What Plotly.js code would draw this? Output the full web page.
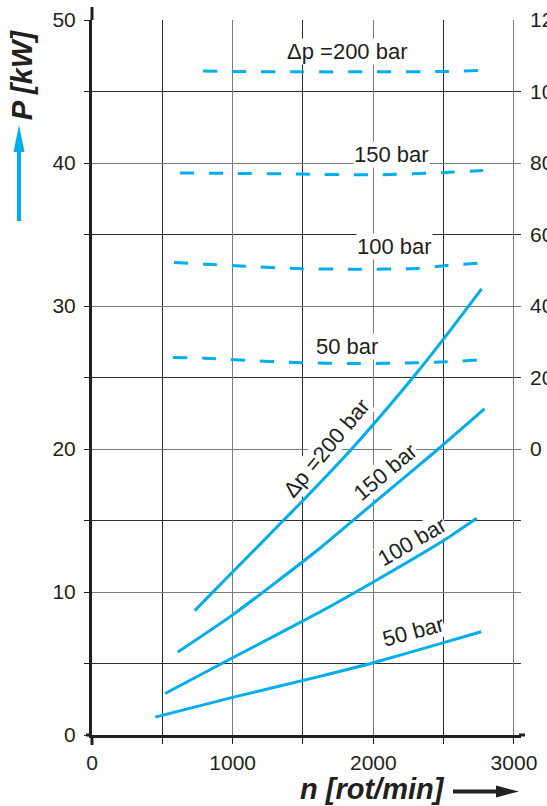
<!DOCTYPE html>
<html>
<head>
<meta charset="utf-8">
<script src="https://cdn.plot.ly/plotly-3.0.1.min.js"></script>
<style>
html,body{margin:0;padding:0;background:#fff;}
#chart{width:547px;height:806px;}
</style>
</head>
<body>
<div id="chart"></div>
<script>
// ---- data ----
// solid curves: power P [kW] vs speed n [rot/min]
const speed200 = [730, 1000, 1500, 1846, 2282, 2500, 2770];
const power200 = [8.7, 11.4, 16.4, 20.0, 25.0, 27.7, 31.2];
const speed150 = [610, 1000, 1600, 2000, 2462, 2790];
const power150 = [5.8, 8.4, 12.9, 16.2, 20.0, 22.8];
const speed100 = [520, 1000, 1620, 2000, 2500, 2735];
const power100 = [2.9, 5.4, 8.6, 10.7, 13.6, 15.15];
const speed50 = [450, 1000, 1620, 2000, 2500, 2767];
const power50 = [1.25, 2.63, 4.1, 5.05, 6.46, 7.22];

// dashed curves: right-hand scale vs speed
const tSpeed200 = [790, 1000, 1500, 2000, 2500, 2780];
const torque200 = [105.7, 105.6, 105.5, 105.5, 105.6, 105.9];
const tSpeed150 = [625, 1000, 1500, 2000, 2500, 2780];
const torque150 = [77.2, 77.1, 76.9, 76.7, 77.3, 77.9];
const tSpeed100 = [583, 800, 1050, 1450, 1880, 2300, 2520, 2760];
const torque100 = [52.2, 51.7, 51.2, 50.5, 50.3, 50.5, 51.3, 52.0];
const tSpeed50 = [576, 800, 1050, 1450, 1880, 2300, 2520, 2740];
const torque50 = [25.6, 25.4, 24.9, 24.2, 23.9, 24.1, 24.4, 24.9];

// tick labels
const xTickVals = [0, 1000, 2000, 3000];
const yTickVals = [0, 10, 20, 30, 40, 50];
const y2TickVals = [0, 20, 40, 60, 80, 100, 120];

// curve labels
const solidLabels = ['Δp =200 bar', '150 bar', '100 bar', '50 bar'];
const dashLabels = ['Δp =200 bar', '150 bar', '100 bar', '50 bar'];

// ---- layout geometry ----
const W = 547, H = 806;
const M = {l: 92, r: 26, t: 20, b: 71};
const PW = W - M.l - M.r, PH = H - M.t - M.b;
const px = x => (x - M.l) / PW;
const py = y => (H - M.b - y) / PH;

const BLUE = '#00aeef';
const INK = '#231f20';
const FONT = 'Liberation Sans, Arial, Helvetica, sans-serif';

function solid(x, y) {
  return {x: x, y: y, type: 'scatter', mode: 'lines',
    line: {color: BLUE, width: 3, shape: 'spline', smoothing: 0.6},
    hoverinfo: 'skip', showlegend: false};
}
function dashed(x, y) {
  return {x: x, y: y, yaxis: 'y2', type: 'scatter', mode: 'lines',
    line: {color: BLUE, width: 3, dash: '14px,15px', shape: 'spline', smoothing: 0.8},
    hoverinfo: 'skip', showlegend: false};
}

const data = [
  solid(speed200, power200), solid(speed150, power150),
  solid(speed100, power100), solid(speed50, power50),
  dashed(tSpeed200, torque200), dashed(tSpeed150, torque150),
  dashed(tSpeed100, torque100), dashed(tSpeed50, torque50)
];

function lab(text, x, y, ang) {
  return {text: text, x: x, y: y, xref: 'x', yref: 'y',
    showarrow: false, textangle: ang, bgcolor: '#ffffff', borderpad: 0,
    xanchor: 'center', yanchor: 'middle',
    font: {family: FONT, size: 22, color: INK}};
}

const annotations = [
  // labels on solid curves (rotated)
  lab(solidLabels[0], 1669, 20.1, -50),
  lab(solidLabels[1], 2090, 18.4, -40),
  lab(solidLabels[2], 2278, 13.5, -30),
  lab(solidLabels[3], 2281, 7.27, -15),
  // labels on dashed curves
  lab(dashLabels[0], 1819, 47.8, 0),
  lab(dashLabels[1], 2132, 40.56, 0),
  lab(dashLabels[2], 2153, 34.13, 0),
  lab(dashLabels[3], 1816, 27.2, 0),
  // axis titles
  {text: '<b><i>P [kW]</i></b>', xref: 'paper', yref: 'paper', x: px(21.7), y: py(75.5),
   showarrow: false, textangle: -90, xanchor: 'center', yanchor: 'middle',
   font: {family: FONT, size: 29, color: INK}},
  {text: '<b><i>n [rot/min]</i></b>', xref: 'paper', yref: 'paper', x: px(372), y: py(789),
   showarrow: false, xanchor: 'center', yanchor: 'middle',
   font: {family: FONT, size: 29, color: INK}}
];

const shapes = [
  // blue up arrow next to P title
  {type: 'line', xref: 'paper', yref: 'paper', x0: px(19), x1: px(19), y0: py(221), y1: py(148),
   line: {color: BLUE, width: 4}},
  {type: 'path', xref: 'paper', yref: 'paper',
   path: 'M' + px(19) + ',' + py(125) + ' L' + px(13.5) + ',' + py(152) + ' L' + px(24.5) + ',' + py(152) + ' Z',
   fillcolor: BLUE, line: {width: 0}},
  // black right arrow next to n title
  {type: 'line', xref: 'paper', yref: 'paper', x0: px(453), x1: px(500), y0: py(791.5), y1: py(791.5),
   line: {color: INK, width: 4}},
  {type: 'path', xref: 'paper', yref: 'paper',
   path: 'M' + px(519) + ',' + py(791.5) + ' L' + px(496) + ',' + py(785.5) + ' L' + px(496) + ',' + py(797.5) + ' Z',
   fillcolor: INK, line: {width: 0}},
  // axis line extensions
  {type: 'line', xref: 'paper', yref: 'paper', x0: px(92), x1: px(92), y0: py(20), y1: py(7),
   line: {color: INK, width: 3}},
  {type: 'line', xref: 'paper', yref: 'paper', x0: px(92), x1: px(92), y0: py(735), y1: py(745),
   line: {color: INK, width: 3}},
  {type: 'line', xref: 'paper', yref: 'paper', x0: px(86), x1: px(92), y0: py(735), y1: py(735),
   line: {color: INK, width: 3}},
  {type: 'line', xref: 'paper', yref: 'paper', x0: px(519), x1: px(525), y0: py(735), y1: py(735),
   line: {color: INK, width: 3}}
];

const layout = {
  width: W, height: H,
  margin: M,
  paper_bgcolor: '#ffffff', plot_bgcolor: '#ffffff',
  font: {family: FONT, size: 21, color: INK},
  showlegend: false,
  xaxis: {
    range: [0, 3050], tickvals: xTickVals, ticktext: xTickVals.map(String),
    showgrid: true, gridcolor: '#7a7a7a', gridwidth: 1,
    zeroline: false, showline: true, linecolor: INK, linewidth: 3,
    ticks: 'outside', ticklen: 6, tickwidth: 1, tickcolor: INK,
    ticklabelstandoff: 1,
    tickfont: {family: FONT, size: 21, color: INK},
    minor: {dtick: 500, tick0: 0, showgrid: true, gridcolor: '#2e2e2e', gridwidth: 1,
            ticks: 'outside', ticklen: 6, tickcolor: INK, tickwidth: 1},
    fixedrange: true
  },
  yaxis: {
    range: [0, 50], tickvals: yTickVals, ticktext: yTickVals.map(String),
    showgrid: true, gridcolor: '#7a7a7a', gridwidth: 1,
    zeroline: false, showline: true, linecolor: INK, linewidth: 3,
    ticks: 'outside', ticklen: 5, tickwidth: 1, tickcolor: INK,
    ticklabelstandoff: 4,
    tickfont: {family: FONT, size: 21, color: INK},
    minor: {dtick: 5, tick0: 0, showgrid: true, gridcolor: '#2e2e2e', gridwidth: 1,
            ticks: 'outside', ticklen: 5, tickcolor: INK, tickwidth: 1},
    fixedrange: true
  },
  yaxis2: {
    overlaying: 'y', side: 'right', range: [-80, 120],
    tickvals: y2TickVals, ticktext: y2TickVals.map(String),
    showgrid: false, zeroline: false, showline: false,
    ticks: '', ticklabelstandoff: 8,
    tickfont: {family: FONT, size: 21, color: INK},
    fixedrange: true
  },
  annotations: annotations,
  shapes: shapes
};

Plotly.newPlot('chart', data, layout, {staticPlot: true, displayModeBar: false});
</script>
</body>
</html>
